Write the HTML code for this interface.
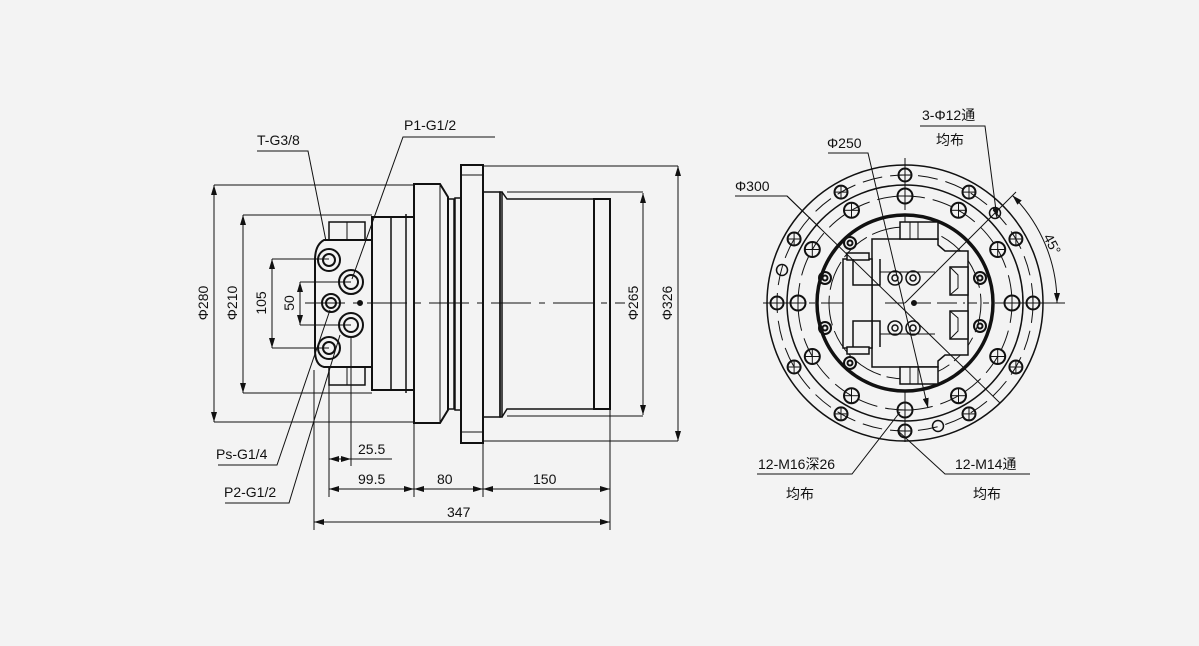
<!DOCTYPE html>
<html><head><meta charset="utf-8"><style>
html,body{margin:0;padding:0;background:#f3f3f3;}
svg{display:block;}
text{font-family:"Liberation Sans","Noto Sans CJK SC",sans-serif;font-size:14px;fill:#111;}
</style></head><body>
<svg width="1199" height="646" viewBox="0 0 1199 646" xmlns="http://www.w3.org/2000/svg">
<defs>
<marker id="a" viewBox="0 0 10 6" refX="10" refY="3" markerWidth="10" markerHeight="6" orient="auto-start-reverse" markerUnits="userSpaceOnUse"><path d="M0,0L10,3L0,6z" fill="#111"/></marker>
<g id="oh" stroke="#111" fill="none"><circle r="6.5" stroke-width="2"/><line x1="-6" y1="0" x2="6" y2="0"/><line x1="0" y1="-6" x2="0" y2="6"/></g>
<g id="ih" stroke="#111" fill="none"><circle r="7.5" stroke-width="2"/><line x1="-7" y1="0" x2="7" y2="0"/><line x1="0" y1="-7" x2="0" y2="7"/></g>
</defs>
<rect width="1199" height="646" fill="#f3f3f3"/>
<g stroke="#111" fill="none" stroke-width="1">
<line x1="305" y1="303" x2="625" y2="303" stroke-dasharray="40,8,6,8"/>
<rect x="461" y="165" width="22" height="278" stroke-width="2"/>
<line x1="461" y1="175" x2="483" y2="175"/><line x1="461" y1="432" x2="483" y2="432"/>
<rect x="483" y="192" width="17" height="225" stroke-width="1.5"/>
<rect x="500" y="192" width="2" height="225" stroke-width="1.5"/>
<path d="M502,192 L507,199 L594,199 L594,409 L507,409 L502,417" stroke-width="1.5"/>
<rect x="594" y="199" width="16" height="210" stroke-width="2"/>
<line x1="483" y1="166" x2="678" y2="166"/><line x1="483" y1="441" x2="678" y2="441"/>
<line x1="507" y1="192" x2="643" y2="192"/><line x1="507" y1="416" x2="643" y2="416"/>
<path d="M414,184 L440,184 L448,197 L448,410 L440,423 L414,423 Z" stroke-width="2"/>
<line x1="440" y1="184" x2="440" y2="423"/>
<rect x="448" y="199" width="6" height="210" stroke-width="1.5"/>
<rect x="455" y="198" width="6" height="212" stroke-width="1.5"/>
<rect x="372" y="217" width="42" height="173" stroke-width="2"/>
<line x1="391" y1="217" x2="391" y2="390" stroke-width="1.5"/>
<line x1="406" y1="214" x2="406" y2="393" stroke-width="1.5"/>
<rect x="329" y="222" width="36" height="18" stroke-width="1.5"/><line x1="347" y1="222" x2="347" y2="240"/>
<rect x="329" y="367" width="36" height="18" stroke-width="1.5"/><line x1="347" y1="367" x2="347" y2="385"/>
<path d="M372,240 L324,240 Q315,245 315,260 L315,350 Q315,365 324,367 L372,367" stroke-width="2"/>
<g stroke-width="2">
<circle cx="329" cy="260" r="11"/><circle cx="329" cy="260" r="6"/>
<circle cx="351" cy="282" r="12"/><circle cx="351" cy="282" r="7"/>
<circle cx="331" cy="303" r="9"/><circle cx="331" cy="303" r="5"/>
<circle cx="351" cy="325" r="12"/><circle cx="351" cy="325" r="7"/>
<circle cx="329" cy="348" r="11"/><circle cx="329" cy="348" r="6"/>
</g>
<circle cx="360" cy="303" r="2.5" fill="#111"/>
<line x1="214" y1="185" x2="414" y2="185"/><line x1="214" y1="422" x2="414" y2="422"/>
<line x1="214" y1="185" x2="214" y2="422" marker-start="url(#a)" marker-end="url(#a)"/>
<line x1="243" y1="215" x2="372" y2="215"/><line x1="243" y1="393" x2="372" y2="393"/>
<line x1="243" y1="215" x2="243" y2="393" marker-start="url(#a)" marker-end="url(#a)"/>
<line x1="272" y1="259" x2="329" y2="259"/><line x1="272" y1="348" x2="329" y2="348"/>
<line x1="272" y1="259" x2="272" y2="348" marker-start="url(#a)" marker-end="url(#a)"/>
<line x1="300" y1="282" x2="351" y2="282"/><line x1="300" y1="325" x2="351" y2="325"/>
<line x1="300" y1="282" x2="300" y2="325" marker-start="url(#a)" marker-end="url(#a)"/>
<line x1="643" y1="193" x2="643" y2="415" marker-start="url(#a)" marker-end="url(#a)"/>
<line x1="678" y1="166" x2="678" y2="441" marker-start="url(#a)" marker-end="url(#a)"/>
<line x1="314" y1="370" x2="314" y2="530"/>
<line x1="329" y1="367" x2="329" y2="497"/>
<line x1="351" y1="337" x2="351" y2="466"/>
<line x1="414" y1="423" x2="414" y2="497"/>
<line x1="483" y1="441" x2="483" y2="497"/>
<line x1="610" y1="409" x2="610" y2="530"/>
<line x1="329" y1="459" x2="351" y2="459" marker-start="url(#a)" marker-end="url(#a)"/>
<line x1="351" y1="459" x2="392" y2="459"/>
<line x1="329" y1="489" x2="414" y2="489" marker-start="url(#a)" marker-end="url(#a)"/>
<line x1="414" y1="489" x2="483" y2="489" marker-start="url(#a)" marker-end="url(#a)"/>
<line x1="483" y1="489" x2="610" y2="489" marker-start="url(#a)" marker-end="url(#a)"/>
<line x1="314" y1="522" x2="610" y2="522" marker-start="url(#a)" marker-end="url(#a)"/>
<polyline points="257,151 308,151 326,241"/>
<polyline points="495,137 403,137 352,279"/>
<polyline points="218,465 277,465 330,310"/>
<polyline points="225,503 289,503 340,335"/>
</g>
<g>
<text x="257" y="145">T-G3/8</text>
<text x="404" y="130">P1-G1/2</text>
<text x="216" y="459">Ps-G1/4</text>
<text x="224" y="497">P2-G1/2</text>
<text x="358" y="454">25.5</text>
<text x="358" y="484">99.5</text>
<text x="437" y="484">80</text>
<text x="533" y="484">150</text>
<text x="447" y="517">347</text>
<text transform="translate(208,303) rotate(-90)" text-anchor="middle">Φ280</text>
<text transform="translate(237,303) rotate(-90)" text-anchor="middle">Φ210</text>
<text transform="translate(266,303) rotate(-90)" text-anchor="middle">105</text>
<text transform="translate(294,303) rotate(-90)" text-anchor="middle">50</text>
<text transform="translate(638,303) rotate(-90)" text-anchor="middle">Φ265</text>
<text transform="translate(672,303) rotate(-90)" text-anchor="middle">Φ326</text>
</g>

<g stroke="#111" fill="none" stroke-width="1" transform="translate(905,303)">
<line x1="-142" y1="0" x2="160" y2="0" stroke-dasharray="40,6,6,6"/>
<line x1="0" y1="-145" x2="0" y2="145" stroke-dasharray="40,6,6,6"/>
<circle r="138" stroke-width="1.5"/>
<circle r="128" stroke-dasharray="20,8"/>
<circle r="118" stroke-width="1.5"/>
<circle r="107" stroke-dasharray="20,8"/>
<circle r="88" stroke-width="3.5"/>
<circle r="76" stroke-dasharray="30,6"/>
<use href="#oh" x="128" y="0"/><use href="#oh" x="110.9" y="64"/><use href="#oh" x="64" y="110.9"/><use href="#oh" x="0" y="128"/>
<use href="#oh" x="-64" y="110.9"/><use href="#oh" x="-110.9" y="64"/><use href="#oh" x="-128" y="0"/><use href="#oh" x="-110.9" y="-64"/>
<use href="#oh" x="-64" y="-110.9"/><use href="#oh" x="0" y="-128"/><use href="#oh" x="64" y="-110.9"/><use href="#oh" x="110.9" y="-64"/>
<use href="#ih" x="107" y="0"/><use href="#ih" x="92.7" y="53.5"/><use href="#ih" x="53.5" y="92.7"/><use href="#ih" x="0" y="107"/>
<use href="#ih" x="-53.5" y="92.7"/><use href="#ih" x="-92.7" y="53.5"/><use href="#ih" x="-107" y="0"/><use href="#ih" x="-92.7" y="-53.5"/>
<use href="#ih" x="-53.5" y="-92.7"/><use href="#ih" x="0" y="-107"/><use href="#ih" x="53.5" y="-92.7"/><use href="#ih" x="92.7" y="-53.5"/>
<g stroke-width="1.5"><circle cx="90" cy="-90" r="5.5"/><circle cx="-123" cy="-33" r="5.5"/><circle cx="33" cy="123" r="5.5"/></g>
<g stroke-width="2"><circle cx="-55" cy="-60" r="6"/><circle cx="-55" cy="-60" r="2.5"/><circle cx="-80" cy="-25" r="6"/><circle cx="-80" cy="-25" r="2.5"/><circle cx="-80" cy="25" r="6"/><circle cx="-80" cy="25" r="2.5"/><circle cx="-55" cy="60" r="6"/><circle cx="-55" cy="60" r="2.5"/><circle cx="75" cy="-25" r="6"/><circle cx="75" cy="-25" r="2.5"/><circle cx="75" cy="23" r="6"/><circle cx="75" cy="23" r="2.5"/></g>
<g stroke-width="1.5" fill="#f3f3f3">
<path d="M-33,-64 L33,-64 L33,-58 L40,-52 L63,-52 L63,52 L40,52 L33,58 L33,64 L-33,64 Z"/>
<rect x="-62" y="-44" width="29" height="89"/>
<rect x="-58" y="-50" width="22" height="7"/><rect x="-58" y="44" width="22" height="7"/>
<rect x="-5" y="-81" width="38" height="17"/><rect x="-5" y="64" width="38" height="17"/>
<rect x="45" y="-36" width="18" height="28"/><rect x="45" y="8" width="18" height="28"/>
<path d="M-52,-44 L-52,-18 L-25,-18 L-25,-44 M-52,44 L-52,18 L-25,18 L-25,44" fill="none"/>
</g>
<g stroke-width="1">
<line x1="-25" y1="-31" x2="30" y2="-31"/><line x1="-25" y1="31" x2="30" y2="31"/>
<line x1="5" y1="-81" x2="5" y2="-64"/><line x1="13" y1="-81" x2="13" y2="-64"/>
<line x1="5" y1="64" x2="5" y2="81"/><line x1="13" y1="64" x2="13" y2="81"/>
<path d="M45,-36 L53,-28 L53,-15 L45,-8 M45,8 L53,15 L53,28 L45,36"/>
<line x1="-33" y1="-18" x2="-33" y2="18"/>
</g>
<g stroke-width="1.5">
<circle cx="-10" cy="-25" r="7"/><circle cx="-10" cy="-25" r="3"/><circle cx="8" cy="-25" r="7"/><circle cx="8" cy="-25" r="3"/>
<circle cx="-10" cy="25" r="7"/><circle cx="-10" cy="25" r="3"/><circle cx="8" cy="25" r="7"/><circle cx="8" cy="25" r="3"/>
</g>
<circle cx="9" cy="0" r="2.5" fill="#111"/>
<line x1="-20" y1="0" x2="60" y2="0" stroke-dasharray="20,6"/>
<line x1="0" y1="0" x2="111" y2="-111"/>
<line x1="135" y1="0" x2="160" y2="0"/>
<path d="M107.5,-107.5 A152,152 0 0 1 152,0" marker-start="url(#a)" marker-end="url(#a)"/>
<line x1="-118" y1="-107" x2="95" y2="100"/>
</g>
<g stroke="#111" fill="none" stroke-width="1">
<polyline points="735,196 787,196 820,228"/>
<polyline points="828,153 868,153 928,408" marker-end="url(#a)"/>
<polyline points="920,126 985,126 997,218" marker-end="url(#a)"/>
<polyline points="757,474 852,474 900,412"/>
<polyline points="1030,474 945,474 897,430"/>
</g>
<g>
<text x="922" y="120">3-Φ12通</text>
<text x="936" y="145">均布</text>
<text x="827" y="148">Φ250</text>
<text x="735" y="191">Φ300</text>
<text x="758" y="469">12-M16深26</text>
<text x="786" y="499">均布</text>
<text x="955" y="469">12-M14通</text>
<text x="973" y="499">均布</text>
<text transform="translate(1043,237) rotate(62)" font-size="13">45°</text>
</g>
</svg>
</body></html>
